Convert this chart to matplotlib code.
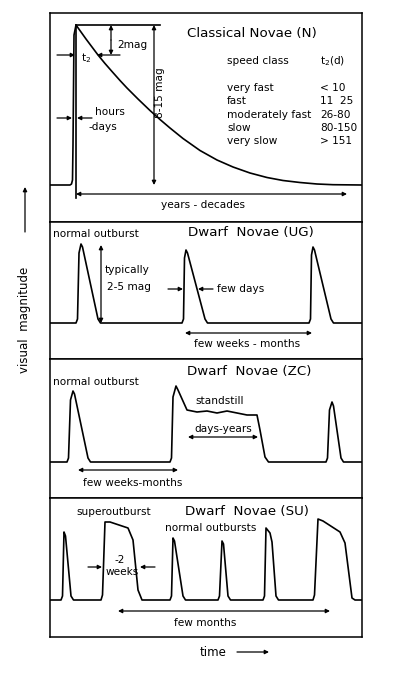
import matplotlib.pyplot as plt

# ---- light curve data (x = time units, h = magnitude above quiescence) ----
nova_x = [0, 20, 21.5, 22.5, 23, 24, 26, 31, 36, 42, 48, 55, 62, 70, 77, 88, 100, 110, 120,
          133, 150, 167, 183, 200, 217, 233, 250, 267, 283, 312]
nova_h = [0, 0, 1, 5, 40, 150, 160, 153, 146, 138, 130, 121.5, 113.5, 104.5, 97, 86, 74.5, 65.5, 57,
          46.5, 34.5, 25, 18, 12, 7.5, 4.5, 2.5, 1, 0.3, 0]

ug_x = [0, 26, 27.5, 29, 31, 32.5, 48, 50.5, 132, 133.5, 134.5, 136, 137.5, 155, 157.5,
        259, 260.5, 261.5, 263, 264.5, 281, 283.5, 312]
ug_h = [0, 0, 4, 70, 79, 76, 4, 0, 0, 4, 65, 73, 70, 4, 0,
        0, 4, 68, 76, 73, 4, 0, 0]

zc_x = [0, 17, 18.5, 20.5, 23, 24.5, 38, 40.5, 120, 121.5, 123, 126, 128, 137,
        147, 157, 167, 177, 187, 197, 207, 210, 215, 218.5,
        276, 277.5, 279.5, 282, 283.5, 291, 293.5, 312]
zc_h = [0, 0, 4, 62, 71, 68, 4, 0, 0, 4, 65, 76, 72, 52,
        50, 51, 49, 51, 49, 47, 47, 32, 5, 0,
        0, 4, 52, 60, 56, 4, 0, 0]

su_x = [0, 11, 12.5, 14, 15.5, 21, 23.5, 51, 52.5, 55, 60, 78, 83, 88, 92,
        120, 121.5, 123, 124.5, 133, 135.5, 168, 169.5, 172, 173.5, 178, 180.5,
        213, 214.5, 216, 220, 222, 226, 228.5,
        263, 264.5, 268, 273, 290, 295, 302, 305, 312]
su_h = [0, 0, 4, 68, 64, 4, 0, 0, 5, 78, 78, 72, 60, 10, 0,
        0, 4, 62, 59, 4, 0, 0, 4, 59, 56, 4, 0,
        0, 4, 72, 67, 58, 4, 0,
        0, 5, 81, 79, 68, 57, 2, 0, 0]

speed_classes = ["very fast", "fast", "moderately fast", "slow", "very slow"]
t2_days = ["< 10", "11  25", "26-80", "80-150", "> 151"]

W, H = 399, 683
fig = plt.figure(figsize=(W / 100, H / 100), dpi=100)
plt.rcParams['font.family'] = 'DejaVu Sans'

LW = 1.2
TS = 9.6   # title size
FS = 7.6   # label size


def panel(top, bottom, base):
    ax = fig.add_axes([50 / W, 1 - bottom / H, 312 / W, (bottom - top) / H])
    ax.set_xlim(0, 312)
    ax.set_ylim(base - bottom, base - top)
    ax.set_xticks([])
    ax.set_yticks([])
    for s in ax.spines.values():
        s.set_linewidth(1.1)
    return ax


def arrow(ax, x0, y0, x1, y1, style='-|>'):
    ax.annotate('', xy=(x1, y1), xytext=(x0, y0),
                arrowprops=dict(arrowstyle=style, lw=0.9, color='k',
                                mutation_scale=6, shrinkA=0, shrinkB=0))


# ---- Classical novae ----
ax1 = panel(13, 222, 185)
ax1.plot(nova_x, nova_h, color='k', lw=LW)
ax1.plot([26, 26], [160, -13], color='k', lw=LW)
ax1.plot([26, 110], [160, 160], color='k', lw=LW)
arrow(ax1, 104, 80, 104, 160, '-|>')
arrow(ax1, 104, 80, 104, 0, '-|>')
ax1.text(110, 92, "8-15 mag", rotation=90, fontsize=FS, ha='center', va='center')
arrow(ax1, 61, 145, 61, 160)
arrow(ax1, 61, 145, 61, 130)
arrow(ax1, 70, 130, 47, 130)
ax1.text(67, 140, "2mag", fontsize=FS, va='center')
arrow(ax1, 7, 130, 25, 130)
ax1.text(31, 127, "t$_2$", fontsize=FS, va='center')
arrow(ax1, 7, 67, 22, 67)
arrow(ax1, 42, 67, 27, 67)
ax1.text(45, 73, "hours", fontsize=FS, va='center')
ax1.text(38, 58, "-days", fontsize=FS, va='center')
ax1.text(137, 152, "Classical Novae (N)", fontsize=TS, va='center')
ax1.text(177, 124, "speed class", fontsize=FS, va='center')
ax1.text(270, 124, "t$_2$(d)", fontsize=FS, va='center')
for i, (c, t) in enumerate(zip(speed_classes, t2_days)):
    ax1.text(177, 97 - 13.3 * i, c, fontsize=FS, va='center')
    ax1.text(270, 97 - 13.3 * i, t, fontsize=FS, va='center')
arrow(ax1, 26, -9, 297, -9, '<|-|>')
ax1.text(153, -20, "years - decades", fontsize=FS, ha='center', va='center')

# ---- Dwarf novae UG ----
ax2 = panel(222, 359, 323)
ax2.plot(ug_x, ug_h, color='k', lw=LW)
ax2.text(3, 89, "normal outburst", fontsize=FS, va='center')
ax2.text(138, 90, "Dwarf  Novae (UG)", fontsize=TS, va='center')
arrow(ax2, 51, 0, 51, 78, '<|-|>')
ax2.text(55, 53, "typically", fontsize=FS, va='center')
ax2.text(57, 36, "2-5 mag", fontsize=FS, va='center')
arrow(ax2, 118, 34, 133, 34)
arrow(ax2, 163, 34, 148, 34)
ax2.text(167, 34, "few days", fontsize=FS, va='center')
arrow(ax2, 135, -10, 262, -10, '<|-|>')
ax2.text(197, -21, "few weeks - months", fontsize=FS, ha='center', va='center')

# ---- Dwarf novae ZC ----
ax3 = panel(359, 498, 462)
ax3.plot(zc_x, zc_h, color='k', lw=LW)
ax3.text(3, 80, "normal outburst", fontsize=FS, va='center')
ax3.text(137, 90, "Dwarf  Novae (ZC)", fontsize=TS, va='center')
ax3.text(145, 61, "standstill", fontsize=FS, va='center')
ax3.text(144, 33, "days-years", fontsize=FS, va='center')
arrow(ax3, 138, 25, 208, 25, '<|-|>')
arrow(ax3, 28, -8, 128, -8, '<|-|>')
ax3.text(83, -21, "few weeks-months", fontsize=FS, ha='center', va='center')

# ---- Dwarf novae SU ----
ax4 = panel(498, 637, 600)
ax4.plot(su_x, su_h, color='k', lw=LW)
ax4.text(26, 88, "superoutburst", fontsize=FS, va='center')
ax4.text(135, 88, "Dwarf  Novae (SU)", fontsize=TS, va='center')
ax4.text(115, 72, "normal outbursts", fontsize=FS, va='center')
arrow(ax4, 38, 33, 52, 33)
arrow(ax4, 105, 33, 90, 33)
ax4.text(70, 40, "-2", fontsize=FS, ha='center', va='center')
ax4.text(72, 28, "weeks", fontsize=FS, ha='center', va='center')
arrow(ax4, 68, -11, 280, -11, '<|-|>')
ax4.text(155, -23, "few months", fontsize=FS, ha='center', va='center')

# ---- axis captions ----
ov = fig.add_axes([0, 0, 1, 1], zorder=-1)
ov.set_xlim(0, W)
ov.set_ylim(H, 0)
ov.axis('off')
ov.text(200, 652, "time", fontsize=8.5, va='center')
arrow(ov, 237, 652, 269, 652)
ov.text(25, 320, "visual  magnitude", fontsize=8.5, rotation=90, ha='center', va='center')
arrow(ov, 25, 232, 25, 187)

fig.savefig("out.png", dpi=100)
